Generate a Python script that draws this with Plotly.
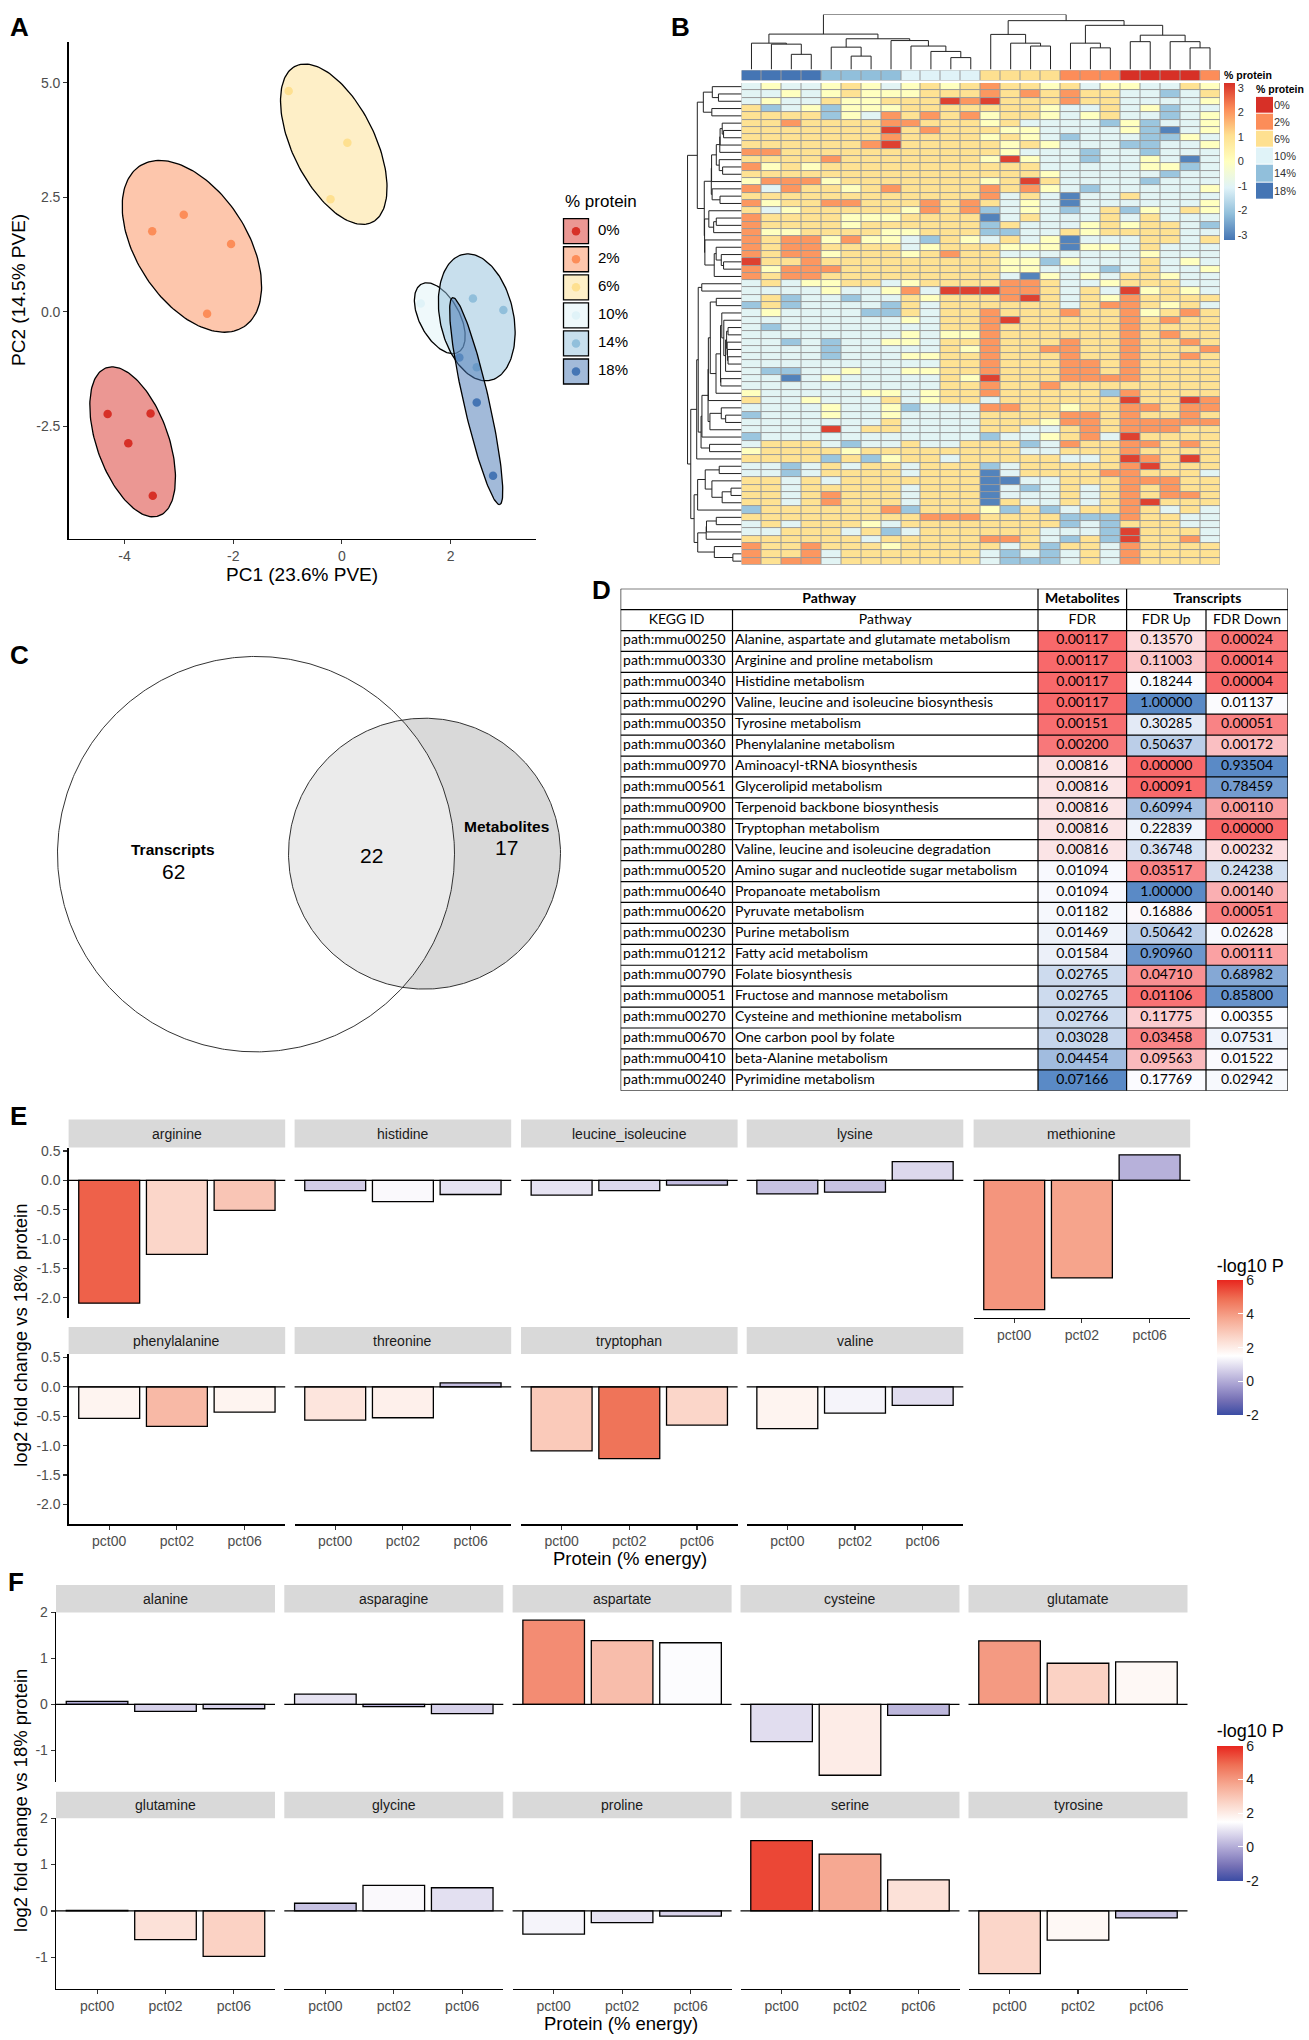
import numpy as np
import plotly.graph_objects as go

W, H = 1309, 2040
FONT = "Liberation Sans, Arial, sans-serif"
TFONT = "Lato, Liberation Sans, sans-serif"

# ======================= DATA =======================
# ---- Panel A: PCA ----
pca_groups = ["0%", "2%", "6%", "10%", "14%", "18%"]
pca_colors = ["#D73027", "#FC8D59", "#FEE090", "#E0F3F8", "#91BFDB", "#4575B4"]
pca_fills = ["rgba(215,48,39,0.5)", "rgba(252,141,89,0.5)", "rgba(254,224,144,0.5)",
             "rgba(224,243,248,0.5)", "rgba(145,191,219,0.5)", "rgba(69,117,180,0.5)"]
pc1_p0 = [-4.31, -3.52, -3.93, -3.48]
pc2_p0 = [-2.23, -2.22, -2.87, -4.02]
pc1_p2 = [-3.49, -2.91, -2.04, -2.48]
pc2_p2 = [1.76, 2.12, 1.48, -0.04]
pc1_p6 = [-0.98, 0.10, -0.21]
pc2_p6 = [4.82, 3.69, 2.46]
pc1_p10 = [1.45]
pc2_p10 = [0.18]
pc1_p14 = [2.41, 2.97, 2.48]
pc2_p14 = [0.29, 0.04, -1.21]
pc1_p18 = [2.16, 2.48, 2.78]
pc2_p18 = [-1.00, -1.98, -3.58]
# confidence ellipses (centre, semi-axes, angle in degrees)
ell_cx = [-3.85, -2.76, -0.15, 1.80, 2.48, 2.47]
ell_cy = [-2.84, 1.43, 3.66, -0.14, -0.12, -1.95]
ell_a = [1.69, 2.01, 1.85, 0.82, 1.40, 2.30]
ell_b = [0.67, 1.06, 0.78, 0.38, 0.68, 0.234]
ell_angle = [-74.5, -65.0, -69.3, -68.0, -81.0, -79.2]

# ---- Panel B: heatmap (z-scores, rows in displayed order) ----
col_groups = ["18%"] * 4 + ["14%"] * 4 + ["10%"] * 4 + ["6%"] * 4 + ["2%"] * 3 + ["0%"] * 4 + ["2%"]
heat_values = [
    [-1, 0, -1, -1, 0, 1, 0, -1, 0, 1, 0, 1, 2, 1, 1, 0, 1, -1, 0, 0, -1, -1, 1, 0],
    [-1, -1, 0, -1, 0, 1, 0, 0, 0, 1, 1, 1, 2, 1, 2, 1, 2, 1, 1, -1, -1, -2, -1, 1],
    [-1, 0, -1, -1, 1, 0, 0, 1, 1, 1, 3, 2, 3, 1, 1, 1, 2, 1, 1, -1, -1, -1, -1, 0],
    [1, -2, -1, 0, -2, 0, 0, 0, 1, 1, 1, 1, 1, 1, 1, 0, -1, -1, 1, -1, 0, -2, -1, -1],
    [1, 1, 1, 1, -2, 0, -1, 2, 1, 2, 1, 2, 0, 1, 1, 0, -1, 0, 1, -1, -1, -2, -1, 0],
    [1, 1, 2, 1, 1, 1, 1, 2, 2, 1, 1, 1, 0, 1, -1, -1, -1, -1, -2, 0, -2, -1, -1, 0],
    [1, 1, 1, 1, 1, 1, 1, 3, 1, 2, 1, 1, 1, 0, 0, -1, -1, -1, -1, 0, -2, -3, -1, 0],
    [1, 1, 1, 1, 1, 1, 1, 2, 1, 1, 1, 1, 0, 1, 0, -1, -2, -1, -1, -1, -2, -2, 0, -1],
    [1, 1, 1, 1, 1, 1, 2, 3, 1, 1, 1, 1, 1, 0, 1, 0, -1, -1, -1, -2, -2, -1, -1, 0],
    [2, 2, 1, 1, 1, 1, 1, 1, 1, 1, 1, 1, 1, 0, -1, -1, -1, -2, -1, -1, -2, -1, -1, -1],
    [1, 1, 1, 1, 2, 1, 1, 1, 1, 1, 1, 1, 0, 3, 0, -1, -1, -2, -1, -1, 0, -1, -3, -1],
    [2, 0, 1, 0, 1, 1, 1, 1, 1, 1, 1, 1, 1, 1, 1, -1, -1, -1, -1, -1, 0, 0, -2, -1],
    [1, 1, 1, 1, 1, 1, 1, 1, 1, 1, 1, 1, 1, 1, 1, 0, -1, -1, -1, -1, -1, -2, -1, -1],
    [0, 2, 2, 2, 0, 1, 1, 1, 1, 1, 1, 1, 0, 1, 3, 1, -1, -1, -1, -1, -2, -1, -1, -1],
    [2, -1, 2, 1, 1, 0, 1, 2, 1, 1, 1, 1, 2, 1, 2, 0, -1, -2, -1, -1, -1, -1, -1, 0],
    [1, 1, 1, 1, 1, 1, 1, 1, 1, 1, 1, 1, 2, -1, 1, -1, -3, -1, -1, 1, -1, -1, -1, -1],
    [2, 0, 1, 1, 2, 2, 1, 1, 1, 2, 1, 2, 1, -1, 0, -1, -3, -1, -1, -1, -1, -1, -1, 0],
    [1, -1, 0, 1, 1, 1, 1, 1, 0, 2, 1, 2, -2, -1, 0, -1, -2, -1, 1, -2, 0, -1, 1, 0],
    [2, 1, 1, 1, 1, 0, 0, 0, 1, 1, 1, 1, -3, -1, 1, -1, -1, -1, 1, -1, 1, -1, -1, -1],
    [2, 1, 1, 1, 1, 0, 1, 1, 1, 1, 1, 1, -2, 1, -1, -1, -1, 0, 1, 0, 1, 1, -1, -2],
    [2, 0, 0, 1, 1, 1, 1, 0, 0, 1, 1, 1, -2, -2, -1, -1, 1, 0, 1, 1, 1, 1, -1, -1],
    [2, 1, 2, 2, 0, 2, 0, 0, -1, -2, 1, 0, -1, 1, -1, 0, -3, -1, -1, -1, 1, 1, -1, 1],
    [2, 1, 2, 2, 1, 1, 1, 1, -1, 0, 1, 1, 1, 0, 0, 0, -3, 0, 0, -1, 1, -1, -1, -1],
    [2, 1, 2, 2, 0, 1, 1, 1, 0, 1, 2, 1, 1, -1, -1, -1, -1, -1, -1, -1, 0, -1, -1, -1],
    [3, 1, 1, 2, 1, 1, 1, 1, 1, 1, 1, 1, 1, 0, 0, -2, 0, -1, -1, -1, 1, -1, 0, -1],
    [2, 0, 2, 2, 2, 1, 1, 1, 1, 1, 1, 1, 1, 0, 0, -1, -1, -1, -2, -1, 1, -1, -1, 0],
    [2, 1, 2, 2, 1, 1, 1, 1, 1, 1, 1, 1, 1, -1, -3, 0, -1, 0, -1, 1, 1, 0, -1, -1],
    [-1, 1, -1, 0, 0, 1, 1, -1, 0, 1, 1, 1, 1, 2, 2, 1, -1, -1, 0, 1, 1, 1, -1, -1],
    [-1, -1, -1, -1, 0, -1, -1, 0, 2, -1, 3, 3, 3, 2, 2, 1, -1, 1, -1, 3, 0, 1, 0, -1],
    [-1, 1, -2, -1, -1, -2, -1, -1, 1, 0, 1, 1, 1, 2, 3, 1, -1, 1, 0, 2, 1, 1, 1, 1],
    [-2, 1, -2, -1, -1, -1, -1, -2, 1, -1, 1, 1, 1, 1, 1, 1, -1, 1, 2, 2, 1, 0, 1, -1],
    [-1, 0, -1, -1, -1, -1, -2, -2, 1, -1, 1, 1, 2, 1, 1, 1, 2, 1, 1, 2, 0, 1, 2, 1],
    [-1, -1, -1, -1, -1, -1, -1, -1, 0, -1, 1, 1, 2, 3, 1, 1, 1, 1, 1, 2, 1, 2, 1, 1],
    [-1, -2, -1, -1, -1, -1, -1, -1, -1, -1, 1, 1, 2, 1, 1, 1, 1, 1, 1, 2, 1, 1, 1, 1],
    [-1, -1, -1, -1, -1, -1, -1, -1, 0, -1, 0, 0, 2, 1, 1, 1, 1, 1, 1, 2, 1, 2, 1, 1],
    [-1, -1, -2, -1, -2, -1, -1, 0, 0, -1, 1, 1, 2, 1, 1, 1, 2, 1, 1, 2, 1, 1, 2, 1],
    [-1, -1, -1, -1, -2, -1, -1, -1, -1, -1, 1, 0, 2, 1, 1, 2, 2, 1, 1, 2, 1, 1, 1, 2],
    [-1, -1, -1, -1, -2, -1, -1, -1, 0, 0, 1, 1, 2, 1, 1, 1, 2, 1, 1, 2, 1, 1, 2, 1],
    [-1, -1, -1, -1, -1, -1, -1, -1, -1, -1, 1, 1, 2, 1, 1, 1, 2, 2, 1, 2, 1, 1, 1, 1],
    [-1, -2, -2, -1, -1, 0, -1, -1, 0, 0, 1, 1, 2, 1, 1, 1, 2, 2, 1, 2, 1, 1, 1, 1],
    [-1, -1, -3, -1, 0, -1, -1, -1, -1, -1, 1, 0, 3, 1, 1, 1, 2, 2, 2, 2, 1, 1, 1, 1],
    [-1, -1, -1, -1, -1, -1, -1, -1, -1, -1, 1, 1, 2, 1, 1, 2, 1, 1, 1, 1, 1, 1, 1, 1],
    [0, -1, -1, -1, -1, -1, 0, 0, -1, 0, 1, 1, 2, 1, 1, 1, 1, 1, -2, 2, 1, 1, 1, 1],
    [1, -1, -1, 0, -1, -1, -1, 1, -1, 0, 1, 1, -1, 1, 1, 1, 1, 1, 1, 3, 1, 1, 3, 2],
    [-1, -1, -1, -1, 0, -1, -1, 0, -2, -1, -1, -1, 2, 2, 1, 1, 0, 1, 1, 2, 2, 1, 2, 2],
    [-2, -1, -1, -1, 0, -1, -1, 0, -1, -1, -1, -1, 1, 1, 1, 1, 2, 2, 1, 2, 1, 1, 2, 1],
    [-1, -1, -1, -1, -1, -1, -1, 1, -1, -1, -1, -1, 1, 1, 1, 0, 2, 2, 1, 2, 2, 2, 2, 2],
    [-1, -1, -1, -1, 3, -1, 1, 1, -1, -1, -1, -1, 1, 1, -1, -1, 1, 2, 1, 2, 2, 2, 1, 1],
    [-2, -1, -1, -1, -1, -1, -1, -1, -1, -1, -1, -1, -2, -1, -1, 0, 1, 2, -1, 3, 1, 1, 1, 1],
    [-1, 1, 1, 1, -1, -2, -1, -1, 1, -1, -1, 1, 1, 1, -2, -1, 2, 1, 1, 2, 2, 1, 2, 1],
    [0, 1, 1, 1, 1, 0, 1, 1, 1, 1, 1, 1, 1, 1, -1, -1, 1, 1, 1, 2, 1, 1, 1, 1],
    [1, 1, 1, 1, -2, 1, -2, 0, 1, 1, -1, 1, 1, 1, 1, 1, -1, -1, 1, 3, 2, 1, 3, 1],
    [-1, -1, -2, -1, 1, -1, 1, 1, -1, 1, 1, 1, -2, -1, 1, 1, 1, 1, 1, 2, 3, 1, 1, 1],
    [-1, -1, -2, -1, 1, 1, 1, 1, -1, 1, 1, 1, -3, -1, 1, 1, 1, 1, 2, 2, 1, 1, 1, -1],
    [1, 1, -1, 1, -1, 1, 1, 1, 1, 1, 1, 1, -3, -3, -1, -1, 1, 1, 1, 2, 2, 2, 1, 1],
    [1, 1, -1, 1, 1, 1, 1, 1, -1, 1, 1, 1, -3, -1, -2, -1, 1, -1, 1, 2, 1, 2, 1, 1],
    [1, 1, -1, 1, 2, 1, 1, 1, -1, 1, 1, 1, -3, -1, -1, -1, 1, -1, 1, 2, 1, 2, 2, 1],
    [1, 1, -1, 1, 2, 1, 1, 1, -1, 1, 1, 1, -3, 1, -1, -1, 1, -1, 1, 2, 3, 1, 1, 1],
    [-2, 1, 1, 1, 1, 1, 1, 2, -2, 1, 1, 1, 0, -2, 1, -2, -1, 1, 1, 2, 1, -1, 1, -1],
    [1, 1, 1, 1, 1, 1, 1, 1, 1, 2, 2, 2, 1, 1, 1, 1, -2, -2, -2, 2, 1, 1, -1, -1],
    [-1, 1, -1, 1, 1, 1, 0, -1, 1, 1, 1, 1, 1, 1, 1, 1, -2, -1, -2, 1, 1, 1, -1, -1],
    [-1, -1, 1, 1, 1, -1, 1, -2, -1, 1, 1, 1, 1, 1, 1, -1, -1, -1, -2, 3, 1, 1, 1, -1],
    [1, 1, 1, 1, 1, 1, -1, 1, 1, 1, 1, 1, 2, 2, 1, -1, -2, 1, -2, 3, 1, 1, 2, -1],
    [2, 1, 1, 2, 1, 1, 1, 0, 1, 1, 1, 1, 1, -1, 1, -2, 1, 1, -1, 2, 1, 1, 1, 1],
    [2, 1, 1, 2, -1, 1, 1, 1, 1, 1, 1, 1, -1, -2, -1, -2, -1, 1, -1, 2, 1, 1, 1, 1],
    [2, 1, 2, 2, -1, 1, 1, 1, 1, 1, 1, 1, -1, -2, -2, -2, -1, 1, -1, 2, 1, 1, 1, 1],
]
# column dendrogram merges: (left id, right id, height); leaves are 0..23
col_merges = [
    (2, 3, 15.3), (1, 24, 25.5), (0, 25, 26.5), (5, 6, 13.5), (4, 27, 22.5),
    (10, 11, 12.0), (9, 29, 18.2), (8, 30, 23.6), (7, 31, 29.1), (28, 32, 30.9),
    (26, 33, 35.6), (14, 15, 23.6), (13, 35, 26.5), (12, 36, 35.3), (17, 18, 21.8),
    (16, 38, 26.5), (19, 20, 28.0), (22, 23, 21.8), (21, 41, 28.0), (40, 42, 34.5),
    (39, 43, 44.4), (37, 44, 49.1), (34, 45, 55.3),
]

# ---- Panel C: Venn counts ----
venn_transcripts_only = 62
venn_shared = 22
venn_metabolites_only = 17

# ---- Panel D: KEGG table ----
kegg_ids = ["path:mmu00250", "path:mmu00330", "path:mmu00340", "path:mmu00290", "path:mmu00350",
            "path:mmu00360", "path:mmu00970", "path:mmu00561", "path:mmu00900", "path:mmu00380",
            "path:mmu00280", "path:mmu00520", "path:mmu00640", "path:mmu00620", "path:mmu00230",
            "path:mmu01212", "path:mmu00790", "path:mmu00051", "path:mmu00270", "path:mmu00670",
            "path:mmu00410", "path:mmu00240"]
pathway_names = ["Alanine, aspartate and glutamate metabolism", "Arginine and proline metabolism",
                 "Histidine metabolism", "Valine, leucine and isoleucine biosynthesis",
                 "Tyrosine metabolism", "Phenylalanine metabolism", "Aminoacyl-tRNA biosynthesis",
                 "Glycerolipid metabolism", "Terpenoid backbone biosynthesis", "Tryptophan metabolism",
                 "Valine, leucine and isoleucine degradation",
                 "Amino sugar and nucleotide sugar metabolism", "Propanoate metabolism",
                 "Pyruvate metabolism", "Purine metabolism", "Fatty acid metabolism",
                 "Folate biosynthesis", "Fructose and mannose metabolism",
                 "Cysteine and methionine metabolism", "One carbon pool by folate",
                 "beta-Alanine metabolism", "Pyrimidine metabolism"]
fdr_metabolites = [0.00117, 0.00117, 0.00117, 0.00117, 0.00151, 0.00200, 0.00816, 0.00816, 0.00816,
                   0.00816, 0.00816, 0.01094, 0.01094, 0.01182, 0.01469, 0.01584, 0.02765, 0.02765,
                   0.02766, 0.03028, 0.04454, 0.07166]
fdr_up = [0.13570, 0.11003, 0.18244, 1.00000, 0.30285, 0.50637, 0.00000, 0.00091, 0.60994, 0.22839,
          0.36748, 0.03517, 1.00000, 0.16886, 0.50642, 0.90960, 0.04710, 0.01106, 0.11775, 0.03458,
          0.09563, 0.17769]
fdr_down = [0.00024, 0.00014, 0.00004, 0.01137, 0.00051, 0.00172, 0.93504, 0.78459, 0.00110, 0.00000,
            0.00232, 0.24238, 0.00140, 0.00051, 0.02628, 0.00111, 0.68982, 0.85800, 0.00355, 0.07531,
            0.01522, 0.02942]
table_groups = ["Pathway", "Metabolites", "Transcripts"]
table_header = ["KEGG ID", "Pathway", "FDR", "FDR Up", "FDR Down"]

# ---- Panel E / F: log2 fold change vs 18% protein, fill = -log10 P ----
diet_levels = ["pct00", "pct02", "pct06"]
E_names = ["arginine", "histidine", "leucine_isoleucine", "lysine", "methionine",
           "phenylalanine", "threonine", "tryptophan", "valine"]
E_log2fc = [[-2.09, -1.26, -0.51], [-0.175, -0.36, -0.24], [-0.25, -0.175, -0.08],
            [-0.23, -0.20, 0.32], [-2.20, -1.66, 0.435], [-0.537, -0.672, -0.43],
            [-0.565, -0.525, 0.068], [-1.09, -1.22, -0.65], [-0.71, -0.446, -0.316]]
E_neglog10p = [[5.1, 2.6, 3.0], [0.6, 1.4, 1.0], [1.0, 0.8, 0.3], [0.4, 0.4, 0.8], [4.1, 3.8, 0.1],
               [1.8, 3.3, 1.8], [2.2, 1.9, 0.3], [2.9, 4.8, 2.6], [1.8, 1.3, 0.9]]
F_names = ["alanine", "asparagine", "aspartate", "cysteine", "glutamate",
           "glutamine", "glycine", "proline", "serine", "tyrosine"]
F_log2fc = [[0.065, -0.15, -0.094], [0.224, -0.05, -0.20], [1.83, 1.386, 1.34],
            [-0.81, -1.54, -0.24], [1.38, 0.895, 0.924], [0.01, -0.62, -0.98],
            [0.166, 0.55, 0.50], [-0.50, -0.25, -0.11], [1.516, 1.227, 0.67],
            [-1.35, -0.63, -0.15]]
F_neglog10p = [[0.0, 0.7, 0.7], [1.0, 0.1, 0.7], [4.3, 3.2, 1.45], [0.9, 2.0, 0.2], [4.0, 2.7, 1.7],
               [1.0, 2.3, 2.7], [0.4, 1.4, 0.95], [1.3, 1.0, 0.7], [5.5, 3.7, 2.3], [2.6, 1.7, 0.4]]

# ======================= FIGURE =======================
layout = dict(width=W, height=H, margin=dict(l=0, r=0, t=0, b=0, pad=0),
              paper_bgcolor="white", plot_bgcolor="white", showlegend=False, hovermode=False,
              font=dict(family=FONT, color="black"))
shapes, annotations, traces = [], [], []
naxes = [0]


def add_axes(xpx, ypx, xkw=None, ykw=None):
    naxes[0] += 1
    n = naxes[0]
    sfx = "" if n == 1 else str(n)
    xa = dict(showgrid=False, zeroline=False, fixedrange=True)
    xa.update(xkw or {})
    xa.update(domain=[xpx[0] / W, xpx[1] / W], anchor="y" + sfx)
    ya = dict(showgrid=False, zeroline=False, fixedrange=True)
    ya.update(ykw or {})
    ya.update(domain=[1 - ypx[1] / H, 1 - ypx[0] / H], anchor="x" + sfx)
    layout["xaxis" + sfx] = xa
    layout["yaxis" + sfx] = ya
    return "x" + sfx, "y" + sfx


def classic(rng, tv, tt, size=14):
    return dict(range=rng, showline=True, linecolor="black", linewidth=1.3, ticks="outside",
                ticklen=4, tickwidth=1.1, tickcolor="#333333", tickvals=tv, ticktext=tt,
                tickfont=dict(size=size, color="#4D4D4D", family=FONT))


def ptext(x, y, text, size, bold=False, xanchor="center", yanchor="middle", color="black", family=FONT, textangle=0):
    annotations.append(dict(xref="paper", yref="paper", x=x / W, y=1 - y / H, text=("<b>%s</b>" % text) if bold else text,
                            showarrow=False, xanchor=xanchor, yanchor=yanchor, textangle=textangle,
                            font=dict(size=size, color=color, family=family)))


# ---------- Panel letters ----------
for lab, x, y in [("A", 8, 19), ("B", 669, 19), ("C", 8, 650), ("D", 590, 584), ("E", 8, 1112), ("F", 6, 1580)]:
    ptext(x, y, lab, 26, bold=True, xanchor="left")

# ---------- Panel A ----------
xa, ya = add_axes((68.5, 536), (33.8, 533),
                  classic([-5.03, 3.57], [-4, -2, 0, 2], ["-4", "-2", "0", "2"]),
                  classic([-4.96, 5.90], [-2.5, 0, 2.5, 5.0], ["-2.5", "0.0", "2.5", "5.0"]))
pc1_all = [pc1_p0, pc1_p2, pc1_p6, pc1_p10, pc1_p14, pc1_p18]
pc2_all = [pc2_p0, pc2_p2, pc2_p6, pc2_p10, pc2_p14, pc2_p18]
for g in range(6):
    traces.append(go.Scatter(x=pc1_all[g], y=pc2_all[g], mode="markers", xaxis=xa, yaxis=ya,
                             marker=dict(size=8.5, color=pca_colors[g])))
tt = np.linspace(0, 2 * np.pi, 160)
for g in range(6):
    th = np.deg2rad(ell_angle[g])
    ex = ell_cx[g] + ell_a[g] * np.cos(tt) * np.cos(th) - ell_b[g] * np.sin(tt) * np.sin(th)
    ey = ell_cy[g] + ell_a[g] * np.cos(tt) * np.sin(th) + ell_b[g] * np.sin(tt) * np.cos(th)
    traces.append(go.Scatter(x=ex, y=ey, mode="lines", fill="toself", fillcolor=pca_fills[g],
                             line=dict(color="black", width=1.3), xaxis=xa, yaxis=ya))
ptext(302, 569, "PC1 (23.6% PVE)", 19)
ptext(19, 283, "PC2 (14.5% PVE)", 19, textangle=-90)
# legend
xl, yl = add_axes((562, 650), (210, 379), dict(visible=False, range=[0, 88]), dict(visible=False, range=[5.5, -0.5]))
rows = list(range(6))
traces.append(go.Scatter(x=[14] * 6, y=rows, mode="markers", xaxis=xl, yaxis=yl,
                         marker=dict(symbol="square", size=25, color=pca_fills, line=dict(color="black", width=1.3))))
traces.append(go.Scatter(x=[14] * 6, y=rows, mode="markers", xaxis=xl, yaxis=yl,
                         marker=dict(size=8.5, color=pca_colors)))
traces.append(go.Scatter(x=[36] * 6, y=rows, mode="text", text=pca_groups, textposition="middle right",
                         textfont=dict(size=15, family=FONT), xaxis=xl, yaxis=yl))
ptext(563, 194, "% protein", 17, xanchor="left")

# ---------- Panel B ----------
hm = np.array(heat_values, dtype=float)
assert hm.shape[1] == 24, hm.shape
nrow = hm.shape[0]
heat_scale = [[0, "#4575B4"], [1 / 6, "#91BFDB"], [2 / 6, "#E0F3F8"], [3 / 6, "#FFFFBF"],
              [4 / 6, "#FEE090"], [5 / 6, "#FC8D59"], [1, "#D73027"]]
HX0, HX1, HY0, HY1 = 741.5, 1220, 75.3, 559
xh, yh = add_axes((HX0, HX1), (HY0, HY1), dict(visible=False, range=[-0.5, 23.5]),
                  dict(visible=False, range=[nrow - 0.5, -0.5]))
shapes.append(dict(type="rect", xref=xh + " domain", yref=yh + " domain", x0=0, x1=1, y0=0, y1=1,
                   fillcolor="#9A9A9A", line=dict(width=0), layer="below"))
traces.append(go.Heatmap(z=hm, x=list(range(24)), y=list(range(nrow)), xaxis=xh, yaxis=yh,
                         colorscale=heat_scale, zmin=-3.2, zmax=3.2, xgap=1, ygap=1,
                         colorbar=dict(x=1224 / W, xanchor="left", y=1 - 154 / H, yanchor="middle",
                                       len=157, lenmode="pixels", thickness=11, thicknessmode="pixels",
                                       ypad=0, xpad=0, outlinewidth=0, ticks="",
                                       tickvals=[-3, -2, -1, 0, 1, 2, 3],
                                       ticktext=["-3", "-2", "-1", "0", "1", "2", "3"],
                                       tickfont=dict(size=11, color="#333333"))))
# column annotation bar
grp_index = {g: i for i, g in enumerate(pca_groups)}
disc_scale = []
for i, c in enumerate(pca_colors):
    disc_scale += [[i / 6, c], [(i + 1) / 6, c]]
xa2, ya2 = add_axes((HX0, HX1), (62.5, 72.7), dict(visible=False, range=[-0.5, 23.5]),
                    dict(visible=False, range=[-0.5, 0.5]))
shapes.append(dict(type="rect", xref=xa2 + " domain", yref=ya2 + " domain", x0=0, x1=1, y0=0, y1=1,
                   fillcolor="#9A9A9A", line=dict(width=0), layer="below"))
traces.append(go.Heatmap(z=[[grp_index[g] for g in col_groups]], x=list(range(24)), y=[0], xaxis=xa2, yaxis=ya2,
                         colorscale=disc_scale, zmin=-0.5, zmax=5.5, showscale=False, xgap=1, ygap=0))
ptext(1222, 67, "% protein", 10.5, bold=True, xanchor="left")
# annotation legend
xg, yg = add_axes((1256, 1273), (89, 192), dict(visible=False, range=[-0.5, 0.5]),
                  dict(range=[5.5, -0.5], side="right", showline=False, ticks="", tickvals=rows,
                       ticktext=pca_groups, tickfont=dict(size=11, color="#333333")))
traces.append(go.Heatmap(z=[[i] for i in range(6)], x=[0], y=rows, xaxis=xg, yaxis=yg,
                         colorscale=disc_scale, zmin=-0.5, zmax=5.5, showscale=False, ygap=1))
ptext(1254, 81, "% protein", 10.5, bold=True, xanchor="left")

# column dendrogram
pos = {i: float(i) for i in range(24)}
hgt = {i: 0.0 for i in range(24)}
dx, dy = [], []
for k, (l, r, h) in enumerate(col_merges):
    nid = 24 + k
    dx += [pos[l], pos[l], pos[r], pos[r], None]
    dy += [hgt[l], h, h, hgt[r], None]
    pos[nid] = (pos[l] + pos[r]) / 2
    hgt[nid] = h
xcd, ycd = add_axes((HX0, HX1), (6.5, 61.8), dict(visible=False, range=[-0.5, 23.5]),
                    dict(visible=False, range=[0, 55.3]))
traces.append(go.Scatter(x=dx, y=dy, mode="lines", line=dict(color="#222222", width=1), xaxis=xcd, yaxis=ycd))

# row dendrogram (adjacent average-linkage on displayed row order)
D = np.sqrt(((hm[:, None, :] - hm[None, :, :]) ** 2).sum(-1))
clusters = [dict(m=[i], p=float(i), h=0.0) for i in range(nrow)]
rx, ry = [], []
while len(clusters) > 1:
    best = None
    for i in range(len(clusters) - 1):
        d = D[np.ix_(clusters[i]["m"], clusters[i + 1]["m"])].mean()
        if best is None or d < best[0]:
            best = (d, i)
    d, i = best
    a, b = clusters[i], clusters[i + 1]
    h = max(d, a["h"], b["h"]) + 0.05
    rx += [a["h"], h, h, b["h"], None]
    ry += [a["p"], a["p"], b["p"], b["p"], None]
    clusters[i:i + 2] = [dict(m=a["m"] + b["m"], p=(a["p"] + b["p"]) / 2, h=h)]
hmax = clusters[0]["h"]
xrd, yrd = add_axes((687, HX0), (HY0, HY1), dict(visible=False, range=[hmax * 1.01, 0]),
                    dict(visible=False, range=[nrow - 0.5, -0.5]))
traces.append(go.Scatter(x=rx, y=ry, mode="lines", line=dict(color="#222222", width=1), xaxis=xrd, yaxis=yrd))

# ---------- Panel C: Venn ----------
xv, yv = add_axes((0, 620), (625, 1075), dict(visible=False, range=[0, 620]), dict(visible=False, range=[1075, 625]))
c1x, c1y, r1 = 256.0, 849.5, 198.5
c2x, c2y, r2 = 424.5, 849.0, 136.0
th = np.linspace(0, 2 * np.pi, 600)
bx, by = c1x + r1 * np.cos(th), c1y + r1 * np.sin(th)
sx, sy = c2x + r2 * np.cos(th), c2y + r2 * np.sin(th)
traces.append(go.Scatter(x=bx, y=by, mode="lines", fill="toself", fillcolor="white", line=dict(width=0), xaxis=xv, yaxis=yv))
traces.append(go.Scatter(x=sx, y=sy, mode="lines", fill="toself", fillcolor="#D9D9D9", line=dict(width=0), xaxis=xv, yaxis=yv))
m1 = (sx - c1x) ** 2 + (sy - c1y) ** 2 <= r1 ** 2
m2 = (bx - c2x) ** 2 + (by - c2y) ** 2 <= r2 ** 2
lx = np.concatenate([sx[m1], bx[m2]])
ly = np.concatenate([sy[m1], by[m2]])
ang = np.arctan2(ly - ly.mean(), lx - lx.mean())
o = np.argsort(ang)
traces.append(go.Scatter(x=lx[o], y=ly[o], mode="lines", fill="toself", fillcolor="#EBEBEB", line=dict(width=0), xaxis=xv, yaxis=yv))
for cx_, cy_, rr in [(c1x, c1y, r1), (c2x, c2y, r2)]:
    traces.append(go.Scatter(x=cx_ + rr * np.cos(th), y=cy_ + rr * np.sin(th), mode="lines",
                             line=dict(color="#333333", width=1), xaxis=xv, yaxis=yv))
for x_, y_, txt, sz, bold in [(173, 845, "Transcripts", 15.5, True), (173, 867, str(venn_transcripts_only), 21, False),
                              (371, 851, str(venn_shared), 21, False),
                              (506, 822, "Metabolites", 15.5, True), (506, 843, str(venn_metabolites_only), 21, False)]:
    annotations.append(dict(xref=xv, yref=yv, x=x_, y=y_, text=("<b>%s</b>" % txt) if bold else txt,
                            showarrow=False, font=dict(size=sz, family=FONT, color="black")))

# ---------- Panel D: table drawn on a pixel-scaled axis ----------
TX = [620.6, 732.5, 1038, 1126.6, 1206, 1288]
TY0, RH = 583.0, 21.0
nr = len(kegg_ids)
body_top = TY0 + 2 * RH
row_edges = [body_top + RH * i for i in range(nr + 1)]
row_mid = [body_top + RH * (i + 0.5) for i in range(nr)]
TY1 = row_edges[-1]
xt, yt = add_axes((TX[0], TX[-1]), (TY0, TY1), dict(visible=False, range=[TX[0], TX[-1]]),
                  dict(visible=False, range=[TY1, TY0]))
# Excel-style 3-colour scale (min red, median white, max blue) per FDR column
for k, vals in enumerate([fdr_metabolites, fdr_up, fdr_down]):
    v = np.array(vals, dtype=float)
    lo, mid, hi = v.min(), float(np.percentile(v, 50)), v.max()
    cs = [[0, "rgb(248,105,107)"], [(mid - lo) / (hi - lo), "rgb(252,252,255)"], [1, "rgb(90,138,198)"]]
    traces.append(go.Heatmap(z=[[x] for x in vals], x=[TX[2 + k], TX[3 + k]], y=row_edges, zmin=lo, zmax=hi,
                             colorscale=cs, showscale=False, xaxis=xt, yaxis=yt))
tf = dict(family=TFONT, size=14, color="black")
traces.append(go.Scatter(x=[TX[0] + 2.5] * nr, y=row_mid, text=kegg_ids, mode="text", textposition="middle right",
                         textfont=tf, xaxis=xt, yaxis=yt))
traces.append(go.Scatter(x=[TX[1] + 2.5] * nr, y=row_mid, text=pathway_names, mode="text", textposition="middle right",
                         textfont=tf, xaxis=xt, yaxis=yt))
for k, vals in enumerate([fdr_metabolites, fdr_up, fdr_down]):
    traces.append(go.Scatter(x=[(TX[2 + k] + TX[3 + k]) / 2] * nr, y=row_mid, text=["%.5f" % v for v in vals],
                             mode="text", textposition="middle center", textfont=tf, xaxis=xt, yaxis=yt))
traces.append(go.Scatter(x=[(TX[i] + TX[i + 1]) / 2 for i in range(5)], y=[TY0 + 1.5 * RH] * 5, text=table_header,
                         mode="text", textposition="middle center", textfont=tf, xaxis=xt, yaxis=yt))
traces.append(go.Scatter(x=[(TX[0] + TX[2]) / 2, (TX[2] + TX[3]) / 2, (TX[3] + TX[5]) / 2], y=[TY0 + 0.5 * RH] * 3,
                         text=["<b>%s</b>" % g for g in table_groups], mode="text", textposition="middle center",
                         textfont=tf, xaxis=xt, yaxis=yt))
gx, gy = [], []
for yy in [TY0, TY0 + RH] + row_edges:
    gx += [TX[0], TX[-1], None]
    gy += [yy, yy, None]
for xx in TX:
    top = TY0 if xx in (TX[0], TX[2], TX[3], TX[5]) else TY0 + RH
    gx += [xx, xx, None]
    gy += [top, TY1, None]
traces.append(go.Scatter(x=gx, y=gy, mode="lines", line=dict(color="black", width=1.2), xaxis=xt, yaxis=yt))

# ---------- Panels E, F: faceted bars ----------
t_blue = ["#3B4CA4", "#7570B5", "#A59ED0", "#D3CEE8", "#FFFFFF"]
t_red = ["#FFFFFF", "#FBD5C8", "#F6A68F", "#EF7055", "#E8261E"]
pscale = []
for k, c in enumerate(t_blue):
    v = -2 + 3.5 * k / 4
    pscale.append([(v + 2) / 8, c])
for k, c in enumerate(t_red[1:], start=1):
    v = 1.5 + 4.5 * k / 4
    pscale.append([(v + 2) / 8, c])


def pbar(bar_bottom):
    L = 160
    return dict(x=1216.8 / W, xanchor="left", y=1 - bar_bottom / H, yanchor="bottom", len=L, lenmode="pixels",
                thickness=26, thicknessmode="pixels", outlinewidth=0, ypad=0, xpad=0,
                tickvals=[-2, 0, 2, 4, 6], ticktext=["-2", "0", "2", "4", "6"], ticks="inside",
                tickcolor="white", ticklen=5, tickfont=dict(size=14, color="#1A1A1A"),
                title=dict(text="-log10 P", side="top", font=dict(size=18)))


layout["coloraxis"] = dict(cmin=-2, cmax=6, colorscale=pscale, colorbar=pbar(1412.7))
layout["coloraxis2"] = dict(cmin=-2, cmax=6, colorscale=pscale, colorbar=pbar(1880))


def facet_panel(names, fcs, pvs, xstarts, fw, rows_px, strips_px, yr, ytv, ytt, cax, bottom_rule):
    for i, name in enumerate(names):
        r, c = divmod(i, 5)
        x0 = xstarts[c]
        y0, y1 = rows_px[r]
        show_x = bottom_rule(r, c)
        xkw = dict(type="category", range=[-0.6, 2.6])
        if show_x:
            xkw.update(showline=True, linecolor="black", linewidth=1.3, ticks="outside", ticklen=4,
                       tickwidth=1.1, tickcolor="#333333", tickfont=dict(size=14, color="#4D4D4D"))
        else:
            xkw.update(showline=False, showticklabels=False, ticks="")
        if c == 0:
            ykw = classic(yr, ytv, ytt)
        else:
            ykw = dict(range=yr, showline=False, showticklabels=False, ticks="")
        xs, ys = add_axes((x0, x0 + fw), (y0, y1), xkw, ykw)
        traces.append(go.Bar(x=diet_levels, y=fcs[i], width=0.9, xaxis=xs, yaxis=ys,
                             marker=dict(color=pvs[i], coloraxis=cax, line=dict(color="black", width=1.3))))
        shapes.append(dict(type="line", xref=xs + " domain", yref=ys, x0=0, x1=1, y0=0, y1=0,
                           line=dict(color="black", width=1.3), layer="above"))
        s0, s1 = strips_px[r]
        shapes.append(dict(type="rect", xref="paper", yref="paper", x0=x0 / W, x1=(x0 + fw) / W,
                           y0=1 - s1 / H, y1=1 - s0 / H, fillcolor="#D9D9D9", line=dict(width=0)))
        ptext(x0 + fw / 2, (s0 + s1) / 2, name, 14, color="#1A1A1A")


facet_panel(E_names, E_log2fc, E_neglog10p, [68.6, 294.6, 521, 746.7, 973.6], 216.6,
            [(1144, 1315), (1351.3, 1522.3)], [(1116, 1144), (1324.3, 1351.3)],
            [-2.34, 0.56], [0.5, 0, -0.5, -1, -1.5, -2], ["0.5", "0.0", "-0.5", "-1.0", "-1.5", "-2.0"],
            "coloraxis", lambda r, c: r == 1 or c == 4)
ptext(630, 1557, "Protein (% energy)", 18.5)
ptext(21, 1333, "log2 fold change vs 18% protein", 18.5, textangle=-90)

facet_panel(F_names, F_log2fc, F_neglog10p, [56, 284.3, 512.6, 740.5, 968.5], 219,
            [(1610.7, 1780.7), (1817.3, 1988.7)], [(1583.3, 1610.7), (1790.7, 1817.3)],
            [-1.68, 2.0], [2, 1, 0, -1], ["2", "1", "0", "-1"],
            "coloraxis2", lambda r, c: r == 1)
ptext(621, 2023, "Protein (% energy)", 18.5)
ptext(21, 1800, "log2 fold change vs 18% protein", 18.5, textangle=-90)

layout["shapes"] = shapes
layout["annotations"] = annotations
fig = go.Figure(data=traces, layout=layout)
fig.write_html("out.html", config={"displayModeBar": False, "staticPlot": True},
               post_script="document.body.style.margin='0';document.body.style.overflow='hidden';")
